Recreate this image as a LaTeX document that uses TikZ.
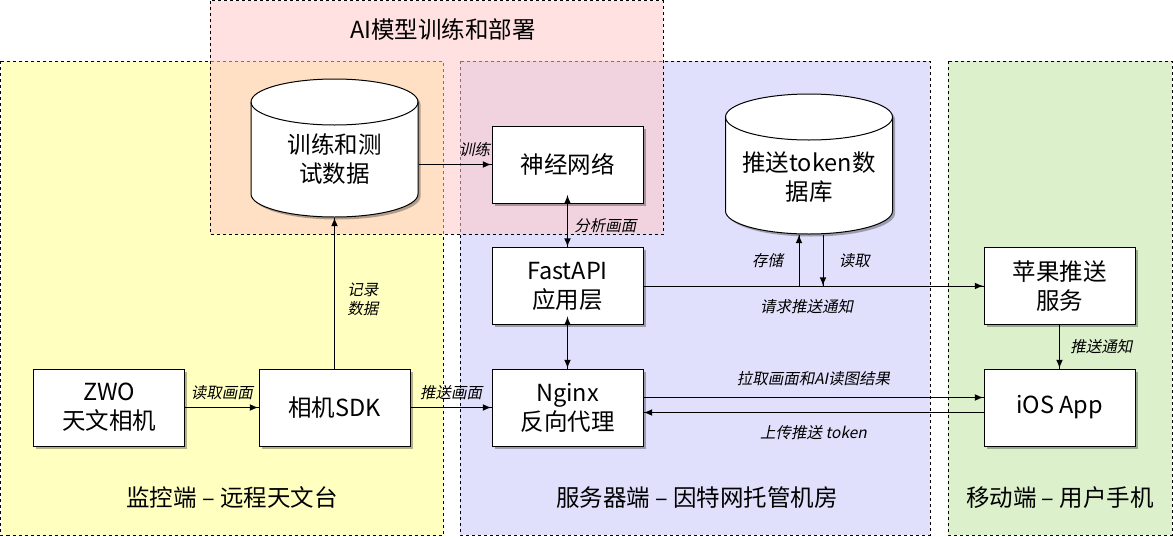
\documentclass[tikz,border=0pt]{standalone}
\usepackage{fontspec}
\setmainfont{Noto Sans CJK SC}[AutoFakeSlant=0.2]
\usepackage{tikz}
\usetikzlibrary{shapes,arrows,shadows}
\usetikzlibrary{arrows,decorations.markings}
\definecolor{monfill}{RGB}{255,255,192}
\definecolor{srvfill}{RGB}{224,224,252}
\definecolor{mobfill}{RGB}{220,240,204}
\definecolor{aifill}{RGB}{255,200,200}
\tikzstyle{arrow} = [decoration={markings,mark=at position 1 with
	{\arrow[scale=1.5,>=latex]{>}}},postaction={decorate}]
\tikzstyle{dblarrow} = [decoration={markings,mark=at position 0 with
	{\arrow[scale=1.5,>=latex]{<}},mark=at position 1 with
	{\arrow[scale=1.5,>=latex]{>}}},postaction={decorate}]
\tikzstyle{zone} = [dashed, line width=0.8pt]
\tikzstyle{zonetitle} = [font=\fontsize{23.5}{28}\selectfont]
\tikzstyle{shade} = [drop shadow={shadow xshift=2.5pt,shadow yshift=-2.5pt,fill=black,opacity=0.3}]
\tikzstyle{block} = [draw, fill=white, line width=1pt, minimum width=151pt,
	minimum height=77pt, align=center, font=\fontsize{23.5}{29}\selectfont, shade]
\tikzstyle{dbline} = [draw, fill=white, line width=1pt, shade]
\tikzstyle{dbbox} = [inner sep=0pt, minimum width=167pt]
\tikzstyle{dbtext} = [align=center, font=\fontsize{23.5}{29}\selectfont]
\tikzstyle{tag} = [font=\fontsize{15.5}{19}\selectfont\itshape]

% cylinder: name, centre x, top y, bottom y
\newcommand{\dbcyl}[4]{%
	\draw[dbline] (#2-83.5,#3+23) -- (#2-83.5,#4-23)
		arc[start angle=180,end angle=360,x radius=83.5pt,y radius=23pt]
		-- (#2+83.5,#3+23)
		arc[start angle=0,end angle=180,x radius=83.5pt,y radius=23pt] -- cycle;
	\draw (#2-83.5,#3+23) arc[start angle=180,end angle=360,x radius=83.5pt,y radius=23pt];
	\node[dbbox, minimum height={#4-#3}] (#1) at (#2,{(#3+#4)/2}) {};
}

\begin{document}
\begin{tikzpicture}[x=1pt,y=-1pt,line width=1pt]
				\useasboundingbox (0,0) rectangle (1173,536);
				
				% zones
				\fill[monfill] (0.5,61) rectangle (443,535);
				\fill[srvfill] (460,61) rectangle (930,535);
				\fill[mobfill] (948,61) rectangle (1172,535);
				\draw[zone] (0.5,61) rectangle (443,535);
				\draw[zone] (460,61) rectangle (930,535);
				\draw[zone] (948,61) rectangle (1172,535);
				\fill[aifill, fill opacity=0.55] (210,0.5) rectangle (663,234);
				\draw[zone] (210,0.5) rectangle (663,234);
				
				\node[zonetitle] (aititle)  at (443,30)  {AI模型训练和部署};
				\node[zonetitle] (montitle) at (232,498) {监控端 – 远程天文台};
				\node[zonetitle] (srvtitle) at (697,498) {服务器端 – 因特网托管机房};
				\node[zonetitle] (mobtitle) at (1060,498) {移动端 – 用户手机};
				
				% blocks
				\node[block] (zwo)   at (109,407.5)   {ZWO\\天文相机};
				\node[block] (sdk)   at (334.5,407.5) {相机SDK};
				\node[block] (nginx) at (567.5,407.5) {Nginx\\反向代理};
				\node[block] (api)   at (567.5,286)   {FastAPI\\应用层};
				\node[block] (nn)    at (567.5,164.5) {神经网络};
				\node[block] (apns)  at (1059.5,286)  {苹果推送\\服务};
				\node[block] (ios)   at (1059.5,407.5) {iOS App};
				
				% databases
				\dbcyl{data}{334.5}{79}{217}
				\dbcyl{token}{809}{94}{234}
				\node[dbtext] (datatxt)  at (334.5,159.5) {训练和测\\试数据};
				\node[dbtext] (tokentxt) at (809,177.5)   {推送token数\\据库};
				
				% connectors
				\draw [arrow] (zwo) -- node[tag, above=4pt] (lblread) {读取画面} (sdk);
				\draw [arrow] (sdk) -- node[tag, above=4pt] (lblpush) {推送画面} (nginx);
				\draw [arrow] (sdk.north) -- node[tag, right=9pt, align=center, pos=0.46] (lblrec) {记录\\数据} (data.south);
				\draw [arrow] (data.east |- nn.west) -- node[tag, above=4pt, pos=0.77] (lbltrain) {训练} (nn.west);
				\draw [dblarrow] (nn) -- node[tag, right=3pt] (lblana) {分析画面} (api);
				\draw [dblarrow] (api) -- (nginx);
				\draw [arrow] (api) -- node[tag, below=10pt, pos=0.48] (lblreq) {请求推送通知} (apns);
				\coordinate (store) at (799,286);
				\coordinate (fetch) at (823,286);
				\draw [arrow] (store) -- node[tag, left=12pt] (lblstore) {存储} (store |- token.south);
				\draw [arrow] (fetch |- token.south) -- node[tag, right=12pt] (lblfetch) {读取} (fetch);
				\draw [arrow] (apns) -- node[tag, right=7pt] (lblnote) {推送通知} (ios);
				\draw [arrow] ([yshift=10pt]nginx.east) -- node[tag, above=8pt] (lblpull) {拉取画面和AI读图结果} ([yshift=10pt]ios.west);
				\draw [arrow] ([yshift=-5pt]ios.west) -- node[tag, below=9pt] (lblup) {上传推送 token} ([yshift=-5pt]nginx.east);
				
\end{tikzpicture}
\end{document}
